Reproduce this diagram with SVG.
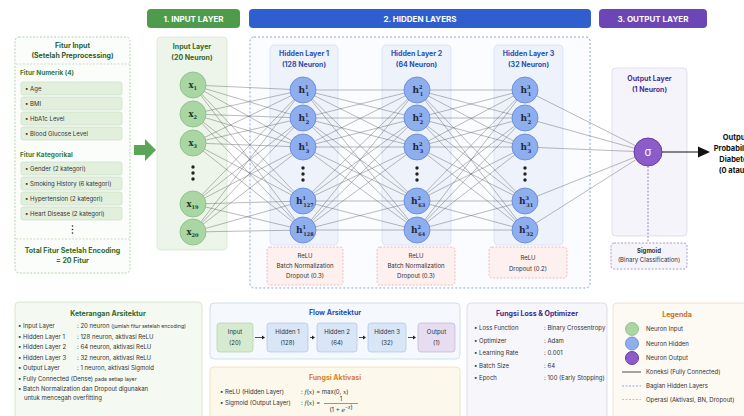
<svg xmlns="http://www.w3.org/2000/svg" width="744" height="416" viewBox="0 0 744 416">
<defs>
<style>
text{font-family:Inter,"Liberation Sans",sans-serif;}
.hdr{font-size:8px;font-weight:700;fill:#fff;text-anchor:middle}
.t7b{font-size:7px;font-weight:700;text-anchor:middle}
.t6{font-size:6px;fill:#333}
.t6m{font-size:6px;fill:#333;text-anchor:middle}
.item{fill:#e3efdd;stroke:#c5dcbc;stroke-width:0.6}
.inode{fill:#a9d6a3;stroke:#86bd80;stroke-width:0.8}
.hnode{fill:#8eaeee;stroke:#5e84da;stroke-width:0.8}
.onode{fill:#8c5cc8;stroke:#6a3ba8;stroke-width:1}
.lbl{font-family:"DejaVu Serif","Liberation Serif",serif;font-weight:700;font-size:9px;fill:#1f2a44}
.xl{font-family:"DejaVu Serif","Liberation Serif",serif;font-weight:700;font-size:8.5px;fill:#1f3a1f}
.sm{font-size:5px}
.conn{fill:none;stroke:#555;stroke-width:0.5;stroke-opacity:0.8}
.op{fill:#fdf0ee;stroke:#e5a79f;stroke-width:0.7;stroke-dasharray:2 1.5}
.dot{fill:#222}
</style>
</defs>
<rect width="744" height="416" fill="#ffffff"/>

<!-- headers -->
<g id="hdr-input"><rect x="147" y="9" width="93" height="19" rx="4" fill="#4f9b4c"/><text class="hdr" x="193.5" y="21.5">1. INPUT LAYER</text></g>
<g id="hdr-hidden"><rect x="249" y="9" width="342" height="19" rx="4" fill="#2f5fce"/><text class="hdr" x="420" y="21.5">2. HIDDEN LAYERS</text></g>
<g id="hdr-output"><rect x="599" y="9" width="108" height="19" rx="4" fill="#6c46b4"/><text class="hdr" x="653" y="21.5">3. OUTPUT LAYER</text></g>

<!-- feature panel -->
<g id="fitur-input">
<rect x="15" y="37" width="115" height="236" rx="4" fill="#fbfdfa" stroke="#9fc99a" stroke-width="0.8" stroke-dasharray="2 1.5"/>
<text class="t7b" x="72.5" y="48" fill="#2f5d2d">Fitur Input</text>
<text class="t7b" x="72.5" y="58" fill="#2f5d2d">(Setelah Preprocessing)</text>
<line x1="16" y1="64" x2="129" y2="64" stroke="#a9cba3" stroke-width="0.6" stroke-dasharray="2 1.5"/>
<text x="20" y="75" font-size="6.5" font-weight="700" fill="#3a7a36">Fitur Numerik (4)</text>
<rect class="item" x="21" y="82" width="101" height="13" rx="2"/><text class="t6" x="25" y="90.5">• Age</text>
<rect class="item" x="21" y="97" width="101" height="13" rx="2"/><text class="t6" x="25" y="105.5">• BMI</text>
<rect class="item" x="21" y="112" width="101" height="13" rx="2"/><text class="t6" x="25" y="120.5">• HbA1c Level</text>
<rect class="item" x="21" y="127" width="101" height="13" rx="2"/><text class="t6" x="25" y="135.5">• Blood Glucose Level</text>
<text x="20" y="157" font-size="6.5" font-weight="700" fill="#3a7a36">Fitur Kategorikal</text>
<rect class="item" x="21" y="162" width="101" height="13" rx="2"/><text class="t6" x="25" y="170.5" font-size="5.6">• Gender (2 kategori)</text>
<rect class="item" x="21" y="177" width="101" height="13" rx="2"/><text class="t6" x="25" y="185.5" font-size="5.6">• Smoking History (6 kategori)</text>
<rect class="item" x="21" y="192" width="101" height="13" rx="2"/><text class="t6" x="25" y="200.5" font-size="5.6">• Hypertension (2 kategori)</text>
<rect class="item" x="21" y="207" width="101" height="13" rx="2"/><text class="t6" x="25" y="215.5" font-size="5.6">• Heart Disease (2 kategori)</text>
<circle class="dot" cx="72.5" cy="226" r="0.8"/><circle class="dot" cx="72.5" cy="229.5" r="0.8"/><circle class="dot" cx="72.5" cy="233" r="0.8"/>
<line x1="16" y1="239" x2="129" y2="239" stroke="#a9cba3" stroke-width="0.6" stroke-dasharray="2 1.5"/>
<text class="t7b" x="72.5" y="253" fill="#2f6b2c">Total Fitur Setelah Encoding</text>
<text class="t7b" x="72.5" y="263" fill="#2f6b2c">= 20 Fitur</text>
</g>
<g id="arrow-in"><polygon points="134,145 145,145 145,139 156,150 145,161 145,155 134,155" fill="#5aa657"/></g>

<!-- layer boxes -->
<g id="input-layer-box">
<rect x="157" y="37" width="70" height="213" rx="4" fill="#edf5eb" stroke="#d3e4cf" stroke-width="0.7"/>
<text class="t7b" x="192" y="48.5" fill="#2f6b2c">Input Layer</text>
<text class="t7b" x="192" y="60" fill="#2f6b2c" font-size="6.5">(20 Neuron)</text>
</g>
<g id="hidden-region"><rect x="250" y="37" width="340" height="251" rx="4" fill="#fbfcff" stroke="#6f8fdc" stroke-width="0.8" stroke-dasharray="2 2"/></g>
<g id="h1-box">
<rect x="270" y="45" width="68" height="200" rx="4" fill="#edf2fb" stroke="#d4def0" stroke-width="0.7"/>
<text class="t7b" x="304" y="56" fill="#2c4fb3">Hidden Layer 1</text>
<text class="t7b" x="304" y="66.5" fill="#2c4fb3" font-size="6.5">(128 Neuron)</text>
</g>
<g id="h2-box">
<rect x="382" y="45" width="69" height="200" rx="4" fill="#edf2fb" stroke="#d4def0" stroke-width="0.7"/>
<text class="t7b" x="416.5" y="56" fill="#2c4fb3">Hidden Layer 2</text>
<text class="t7b" x="416.5" y="66.5" fill="#2c4fb3" font-size="6.5">(64 Neuron)</text>
</g>
<g id="h3-box">
<rect x="494" y="45" width="69" height="200" rx="4" fill="#edf2fb" stroke="#d4def0" stroke-width="0.7"/>
<text class="t7b" x="528.5" y="56" fill="#2c4fb3">Hidden Layer 3</text>
<text class="t7b" x="528.5" y="66.5" fill="#2c4fb3" font-size="6.5">(32 Neuron)</text>
</g>
<g id="output-box">
<rect x="612" y="68" width="75" height="168" rx="4" fill="#f6f4fb" stroke="#d9d3e8" stroke-width="0.7"/>
<text class="t7b" x="649.5" y="81" fill="#4f2f92">Output Layer</text>
<text class="t7b" x="649.5" y="92" fill="#4f2f92" font-size="6.5">(1 Neuron)</text>
</g>

<!-- operations -->
<g id="op-h1"><rect class="op" x="267" y="247" width="76" height="38" rx="3"/>
<text class="t6m" x="305" y="258">ReLU</text><text class="t6m" x="305" y="268">Batch Normalization</text><text class="t6m" x="305" y="278">Dropout (0.3)</text></g>
<g id="op-h2"><rect class="op" x="377" y="247" width="78" height="38" rx="3"/>
<text class="t6m" x="416" y="258">ReLU</text><text class="t6m" x="416" y="268">Batch Normalization</text><text class="t6m" x="416" y="278">Dropout (0.3)</text></g>
<g id="op-h3"><rect class="op" x="489" y="247" width="78" height="31" rx="3"/>
<text class="t6m" x="528" y="260">ReLU</text><text class="t6m" x="528" y="270.5">Dropout (0.2)</text></g>
<g id="op-out"><rect x="611" y="243" width="76" height="26" rx="3" fill="#f6f4fb" stroke="#8a73b8" stroke-width="0.7" stroke-dasharray="2 1.5"/>
<text class="t6m" x="649" y="253" font-size="5.6" font-weight="700" fill="#3b2a6a">Sigmoid</text><text class="t6m" x="649" y="262" font-size="5.3" fill="#3b2a6a">(Binary Classification)</text></g>

<!-- connectors -->
<g id="connectors">
<path class="conn" d="M193 85L303 90M193 85L303 118M193 85L303 147M193 85L303 201M193 85L303 230
M193 114L303 90M193 114L303 118M193 114L303 147M193 114L303 201M193 114L303 230
M193 143L303 90M193 143L303 118M193 143L303 147M193 143L303 201M193 143L303 230
M193 204L303 90M193 204L303 118M193 204L303 147M193 204L303 201M193 204L303 230
M193 232L303 90M193 232L303 118M193 232L303 147M193 232L303 201M193 232L303 230"/>
<path class="conn" d="M303 90L417 90M303 90L417 118M303 90L417 147M303 90L417 201M303 90L417 230
M303 118L417 90M303 118L417 118M303 118L417 147M303 118L417 201M303 118L417 230
M303 147L417 90M303 147L417 118M303 147L417 147M303 147L417 201M303 147L417 230
M303 201L417 90M303 201L417 118M303 201L417 147M303 201L417 201M303 201L417 230
M303 230L417 90M303 230L417 118M303 230L417 147M303 230L417 201M303 230L417 230"/>
<path class="conn" d="M417 90L525 90M417 90L525 118M417 90L525 147M417 90L525 201M417 90L525 230
M417 118L525 90M417 118L525 118M417 118L525 147M417 118L525 201M417 118L525 230
M417 147L525 90M417 147L525 118M417 147L525 147M417 147L525 201M417 147L525 230
M417 201L525 90M417 201L525 118M417 201L525 147M417 201L525 201M417 201L525 230
M417 230L525 90M417 230L525 118M417 230L525 147M417 230L525 201M417 230L525 230"/>
<path class="conn" d="M525 90L648 152M525 118L648 152M525 147L648 152M525 201L648 152M525 230L648 152"/>
<line x1="648" y1="166" x2="648" y2="243" stroke="#7a5cb0" stroke-width="0.7" stroke-dasharray="2 1.5"/>
<line x1="662" y1="152" x2="700" y2="152" stroke="#111" stroke-width="1.2"/>
<polygon points="698,146.5 710,152 698,157.5" fill="#111"/>
</g>

<!-- input nodes -->
<g id="x1"><circle class="inode" cx="193" cy="85" r="13"/><text class="xl" x="188.5" y="88">x<tspan class="sm" dy="2">1</tspan></text></g>
<g id="x2"><circle class="inode" cx="193" cy="114" r="13"/><text class="xl" x="188.5" y="117">x<tspan class="sm" dy="2">2</tspan></text></g>
<g id="x3"><circle class="inode" cx="193" cy="143" r="13"/><text class="xl" x="188.5" y="146">x<tspan class="sm" dy="2">3</tspan></text></g>
<g id="x-dots"><circle class="dot" cx="193" cy="167" r="1.7"/><circle class="dot" cx="193" cy="173" r="1.7"/><circle class="dot" cx="193" cy="179" r="1.7"/></g>
<g id="x19"><circle class="inode" cx="193" cy="204" r="13"/><text class="xl" x="186.5" y="207">x<tspan class="sm" dy="2">19</tspan></text></g>
<g id="x20"><circle class="inode" cx="193" cy="232" r="13"/><text class="xl" x="186.5" y="235">x<tspan class="sm" dy="2">20</tspan></text></g>

<!-- hidden 1 -->
<g id="h1-1"><circle class="hnode" cx="303" cy="90" r="13"/><text class="lbl" x="298.5" y="93">h<tspan class="sm" dy="-4">1</tspan><tspan class="sm" dx="-2.8" dy="7">1</tspan></text></g>
<g id="h1-2"><circle class="hnode" cx="303" cy="118" r="13"/><text class="lbl" x="298.5" y="121">h<tspan class="sm" dy="-4">1</tspan><tspan class="sm" dx="-2.8" dy="7">2</tspan></text></g>
<g id="h1-3"><circle class="hnode" cx="303" cy="147" r="13"/><text class="lbl" x="298.5" y="150">h<tspan class="sm" dy="-4">1</tspan><tspan class="sm" dx="-2.8" dy="7">3</tspan></text></g>
<g id="h1-dots"><circle class="dot" cx="303" cy="168" r="1.7"/><circle class="dot" cx="303" cy="174" r="1.7"/><circle class="dot" cx="303" cy="180" r="1.7"/></g>
<g id="h1-127"><circle class="hnode" cx="303" cy="201" r="13"/><text class="lbl" x="296" y="204">h<tspan class="sm" dy="-4">1</tspan><tspan class="sm" dx="-2.8" dy="7">127</tspan></text></g>
<g id="h1-128"><circle class="hnode" cx="303" cy="230" r="13"/><text class="lbl" x="296" y="233">h<tspan class="sm" dy="-4">1</tspan><tspan class="sm" dx="-2.8" dy="7">128</tspan></text></g>

<!-- hidden 2 -->
<g id="h2-1"><circle class="hnode" cx="417" cy="90" r="13"/><text class="lbl" x="412.5" y="93">h<tspan class="sm" dy="-4">2</tspan><tspan class="sm" dx="-2.8" dy="7">1</tspan></text></g>
<g id="h2-2"><circle class="hnode" cx="417" cy="118" r="13"/><text class="lbl" x="412.5" y="121">h<tspan class="sm" dy="-4">2</tspan><tspan class="sm" dx="-2.8" dy="7">2</tspan></text></g>
<g id="h2-3"><circle class="hnode" cx="417" cy="147" r="13"/><text class="lbl" x="412.5" y="150">h<tspan class="sm" dy="-4">2</tspan><tspan class="sm" dx="-2.8" dy="7">3</tspan></text></g>
<g id="h2-dots"><circle class="dot" cx="417" cy="168" r="1.7"/><circle class="dot" cx="417" cy="174" r="1.7"/><circle class="dot" cx="417" cy="180" r="1.7"/></g>
<g id="h2-63"><circle class="hnode" cx="417" cy="201" r="13"/><text class="lbl" x="411" y="204">h<tspan class="sm" dy="-4">2</tspan><tspan class="sm" dx="-2.8" dy="7">63</tspan></text></g>
<g id="h2-64"><circle class="hnode" cx="417" cy="230" r="13"/><text class="lbl" x="411" y="233">h<tspan class="sm" dy="-4">2</tspan><tspan class="sm" dx="-2.8" dy="7">64</tspan></text></g>

<!-- hidden 3 -->
<g id="h3-1"><circle class="hnode" cx="525" cy="90" r="13"/><text class="lbl" x="520.5" y="93">h<tspan class="sm" dy="-4">3</tspan><tspan class="sm" dx="-2.8" dy="7">1</tspan></text></g>
<g id="h3-2"><circle class="hnode" cx="525" cy="118" r="13"/><text class="lbl" x="520.5" y="121">h<tspan class="sm" dy="-4">3</tspan><tspan class="sm" dx="-2.8" dy="7">2</tspan></text></g>
<g id="h3-3"><circle class="hnode" cx="525" cy="147" r="13"/><text class="lbl" x="520.5" y="150">h<tspan class="sm" dy="-4">3</tspan><tspan class="sm" dx="-2.8" dy="7">3</tspan></text></g>
<g id="h3-dots"><circle class="dot" cx="525" cy="168" r="1.7"/><circle class="dot" cx="525" cy="174" r="1.7"/><circle class="dot" cx="525" cy="180" r="1.7"/></g>
<g id="h3-31"><circle class="hnode" cx="525" cy="201" r="13"/><text class="lbl" x="519" y="204">h<tspan class="sm" dy="-4">3</tspan><tspan class="sm" dx="-2.8" dy="7">31</tspan></text></g>
<g id="h3-32"><circle class="hnode" cx="525" cy="230" r="13"/><text class="lbl" x="519" y="233">h<tspan class="sm" dy="-4">3</tspan><tspan class="sm" dx="-2.8" dy="7">32</tspan></text></g>

<!-- output -->
<g id="out-node"><circle class="onode" cx="648" cy="152" r="14"/><text x="648" y="156" font-family="DejaVu Serif,serif" font-size="11" fill="#fff" text-anchor="middle">σ</text></g>
<g id="out-label" font-size="7.5" font-weight="700" fill="#111" text-anchor="middle">
<text x="735.5" y="140">Output</text><text x="735.5" y="151">Probabilitas</text><text x="735.5" y="162">Diabetes</text><text x="735.5" y="173">(0 atau 1)</text>
</g>

<!-- Keterangan -->
<g id="keterangan">
<rect x="15" y="302" width="187" height="130" rx="4" fill="#f4f9f2" stroke="#cfe2c8" stroke-width="0.8"/>
<text class="t7b" x="108" y="316" fill="#2f6b2c" font-size="7.3">Keterangan Arsitektur</text>
<g class="t6" font-size="5.9">
<text x="18" y="328">•  Input Layer</text><text x="77" y="328">: 20 neuron <tspan font-size="5.2">(jumlah fitur setelah encoding)</tspan></text>
<text x="18" y="338.5">•  Hidden Layer 1</text><text x="77" y="338.5">: 128 neuron, aktivasi ReLU</text>
<text x="18" y="349">•  Hidden Layer 2</text><text x="77" y="349">: 64 neuron, aktivasi ReLU</text>
<text x="18" y="359.5">•  Hidden Layer 3</text><text x="77" y="359.5">: 32 neuron, aktivasi ReLU</text>
<text x="18" y="370">•  Output Layer</text><text x="77" y="370">: 1 neuron, aktivasi Sigmoid</text>
<text x="18" y="380.5">•  Fully Connected (Dense) <tspan font-size="5.2">pada setiap layer</tspan></text>
<text x="18" y="391">•  Batch Normalization dan Dropout digunakan</text>
<text x="24" y="400">untuk mencegah overfitting</text>
</g>
</g>

<!-- Flow -->
<g id="flow">
<rect x="210" y="303" width="250" height="56" rx="4" fill="#f5f8fc" stroke="#c8d5ea" stroke-width="0.8"/>
<text class="t7b" x="335" y="315" fill="#2c4fb3">Flow Arsitektur</text>
<g id="flow-input"><rect x="217" y="323" width="36" height="29" rx="3" fill="#d6ead0" stroke="#a8cc9e" stroke-width="0.6"/><text class="t6m" x="235" y="334">Input</text><text class="t6m" x="235" y="344.5">(20)</text></g>
<g id="flow-h1"><rect x="267" y="323" width="41" height="29" rx="3" fill="#d9e6f7" stroke="#a6bde3" stroke-width="0.6"/><text class="t6m" x="287.5" y="334">Hidden 1</text><text class="t6m" x="287.5" y="344.5">(128)</text></g>
<g id="flow-h2"><rect x="317" y="323" width="40" height="29" rx="3" fill="#d9e6f7" stroke="#a6bde3" stroke-width="0.6"/><text class="t6m" x="337" y="334">Hidden 2</text><text class="t6m" x="337" y="344.5">(64)</text></g>
<g id="flow-h3"><rect x="368" y="323" width="38" height="29" rx="3" fill="#d9e6f7" stroke="#a6bde3" stroke-width="0.6"/><text class="t6m" x="387" y="334">Hidden 3</text><text class="t6m" x="387" y="344.5">(32)</text></g>
<g id="flow-out"><rect x="418" y="323" width="37" height="29" rx="3" fill="#e7ddf1" stroke="#bda9da" stroke-width="0.6"/><text class="t6m" x="436.5" y="334">Output</text><text class="t6m" x="436.5" y="344.5">(1)</text></g>
<g fill="#222" stroke="#222" stroke-width="0.8">
<line x1="255" y1="337.5" x2="262" y2="337.5"/><polygon points="262,335.5 265,337.5 262,339.5" stroke="none"/>
<line x1="310" y1="337.5" x2="312" y2="337.5"/><polygon points="312,335.5 315,337.5 312,339.5" stroke="none"/>
<line x1="359" y1="337.5" x2="363" y2="337.5"/><polygon points="363,335.5 366,337.5 363,339.5" stroke="none"/>
<line x1="408" y1="337.5" x2="413" y2="337.5"/><polygon points="413,335.5 416,337.5 413,339.5" stroke="none"/>
</g>
</g>

<!-- Fungsi Aktivasi -->
<g id="aktivasi">
<rect x="210" y="367" width="250" height="60" rx="4" fill="#fdf8ec" stroke="#efdcb2" stroke-width="0.8"/>
<text class="t7b" x="335" y="380" fill="#d9822b">Fungsi Aktivasi</text>
<text class="t6" x="220" y="394">•  ReLU (Hidden Layer)</text>
<text class="t6" x="301" y="394">: <tspan font-family="DejaVu Serif,serif" font-style="italic">f</tspan>(<tspan font-family="DejaVu Serif,serif" font-style="italic">x</tspan>) = max(0, <tspan font-family="DejaVu Serif,serif" font-style="italic">x</tspan>)</text>
<text class="t6" x="220" y="405">•  Sigmoid (Output Layer)</text>
<text class="t6" x="301" y="405">: <tspan font-family="DejaVu Serif,serif" font-style="italic">f</tspan>(<tspan font-family="DejaVu Serif,serif" font-style="italic">x</tspan>) =</text>
<text class="t6m" x="341" y="401">1</text>
<line x1="324" y1="403.5" x2="358" y2="403.5" stroke="#333" stroke-width="0.5"/>
<text class="t6m" x="341" y="412">(1 + <tspan font-family="DejaVu Serif,serif" font-style="italic">e</tspan><tspan font-size="4.5" dy="-3">−<tspan font-style="italic">x</tspan></tspan>)</text>
</g>

<!-- Loss -->
<g id="loss">
<rect x="467" y="303" width="140" height="130" rx="4" fill="#f7f6fb" stroke="#d8d4e6" stroke-width="0.8"/>
<text class="t7b" x="537" y="316" fill="#3f2785">Fungsi Loss &amp; Optimizer</text>
<g class="t6" font-size="5.9">
<text x="474" y="330">•  Loss Function</text><text x="544" y="330">: Binary Crossentropy</text>
<text x="474" y="342.5">•  Optimizer</text><text x="544" y="342.5">: Adam</text>
<text x="474" y="355">•  Learning Rate</text><text x="544" y="355">: 0.001</text>
<text x="474" y="367.5">•  Batch Size</text><text x="544" y="367.5">: 64</text>
<text x="474" y="380">•  Epoch</text><text x="544" y="380">: 100 (Early Stopping)</text>
</g>
</g>

<!-- Legenda -->
<g id="legenda">
<rect x="613" y="303" width="140" height="130" rx="4" fill="#fdf9f3" stroke="#ecdcc4" stroke-width="0.8"/>
<text class="t7b" x="677" y="317" fill="#c0722a">Legenda</text>
<circle cx="632" cy="329" r="6.5" class="inode"/><text class="t6" x="646" y="331">Neuron Input</text>
<circle cx="632" cy="343.5" r="6.5" class="hnode"/><text class="t6" x="646" y="345.5">Neuron Hidden</text>
<circle cx="632" cy="358" r="6.5" class="onode"/><text class="t6" x="646" y="360">Neuron Output</text>
<line x1="622" y1="372" x2="641" y2="372" stroke="#222" stroke-width="0.8"/><text class="t6" x="646" y="374">Koneksi (Fully Connected)</text>
<line x1="622" y1="386" x2="641" y2="386" stroke="#7a8fe0" stroke-width="0.8" stroke-dasharray="2 1.5"/><text class="t6" x="646" y="388">Bagian Hidden Layers</text>
<line x1="622" y1="399.5" x2="641" y2="399.5" stroke="#e89a9a" stroke-width="0.8" stroke-dasharray="2 1.5"/><text class="t6" x="646" y="401.5">Operasi (Aktivasi, BN, Dropout)</text>
</g>
</svg>
